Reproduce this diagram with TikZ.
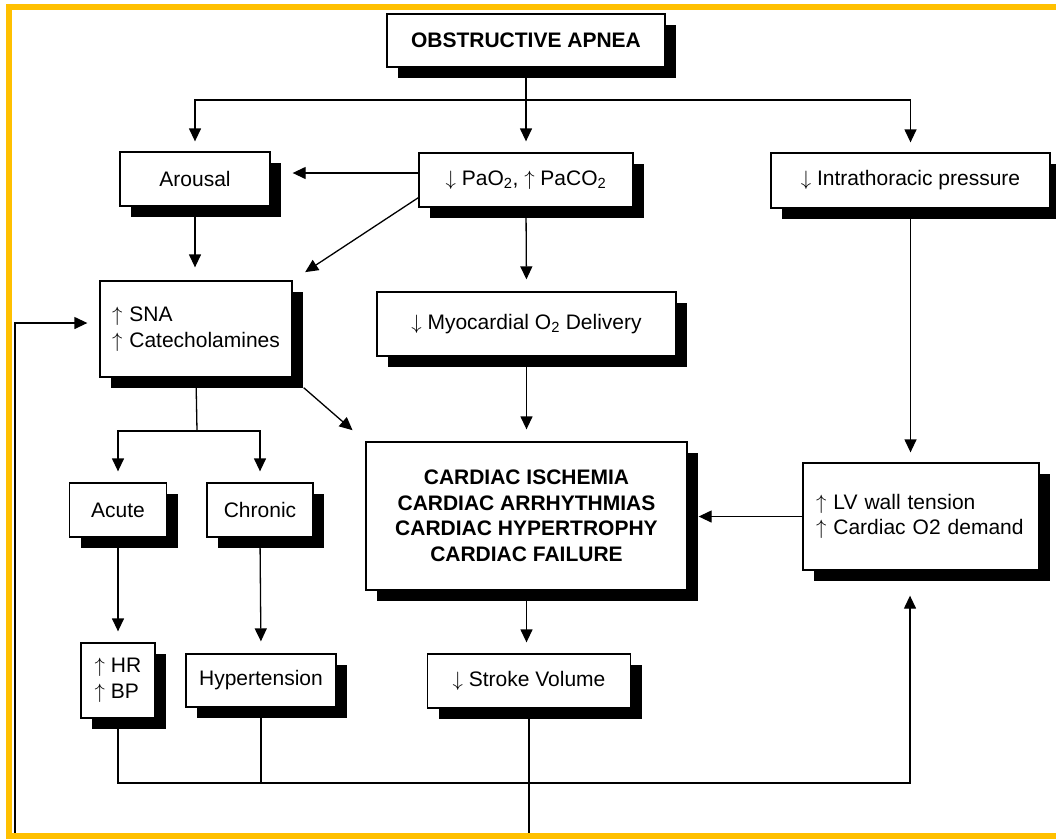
\documentclass[tikz,border=0pt]{standalone}
\usepackage{fontspec}
\setmainfont{Liberation Sans}
\usetikzlibrary{arrows.meta,shadows}
\definecolor{oaframe}{HTML}{FFC000}
\newcommand\oaup{$\uparrow$}
\newcommand\oadown{$\downarrow$}
\newcommand\oafont{\fontsize{21}{25.5}\selectfont\hyphenpenalty 10000\relax}
\tikzset{
 oa box/.style={draw=black,line width=1.3pt,fill=white,inner sep=0pt,align=center,
                font=\oafont,
                drop shadow={shadow xshift=11pt,shadow yshift=-11pt,fill=black,opacity=1}},
 oa bold box/.style={oa box,font=\oafont\bfseries},
 oa list box/.style={oa box,align=left},
 oa line/.style={line width=1.3pt},
 oa arrow/.style={oa line,-{Triangle[length=13pt,width=12pt]},shorten >=#1},
 oa arrow/.default=11pt
}

\begin{document}
\begin{tikzpicture}[x=1pt,y=-1pt]
 \useasboundingbox (0,0) rectangle (1056,839);
 % boxes
 \node[oa bold box,minimum width=278pt,minimum height=53pt] (apnea) at (526,40.5) {OBSTRUCTIVE APNEA};
 \node[oa box,minimum width=150pt,minimum height=54pt] (arousal) at (195,179) {Arousal};
 \node[oa box,minimum width=214pt,minimum height=54pt] (pao2) at (526,180)
   {\oadown{} PaO\textsubscript{2}, \oaup{} PaCO\textsubscript{2}};
 \node[oa box,minimum width=279pt,minimum height=55pt] (intra) at (910.5,180.5) {\oadown{} Intrathoracic pressure};
 \node[oa list box,text width=168pt,inner xsep=12pt,minimum height=96pt] (sna) at (196,329)
   {\oaup{} SNA\\\oaup{} Catecholamines};
 \node[oa box,minimum width=299pt,minimum height=64pt] (myo) at (526.5,324)
   {\oadown{} Myocardial O\textsubscript{2} Delivery};
 \node[oa bold box,minimum width=321pt,minimum height=148pt] (cardiac) at (526.5,516)
   {CARDIAC ISCHEMIA\\CARDIAC ARRHYTHMIAS\\CARDIAC HYPERTROPHY\\CARDIAC FAILURE};
 \node[oa list box,text width=210pt,inner xsep=13pt,minimum height=107pt] (lv) at (921,516.5)
   {\oaup{} LV wall tension\\\oaup{} Cardiac O2 demand};
 \node[oa box,minimum width=97pt,minimum height=54pt] (acute) at (118,510) {Acute};
 \node[oa box,minimum width=106pt,minimum height=54pt] (chronic) at (260,510) {Chronic};
 \node[oa list box,minimum width=74pt,minimum height=75pt] (hrbp) at (118,680.5) {\oaup{} HR\\\oaup{} BP};
 \node[oa box,minimum width=150pt,minimum height=53pt] (hyper) at (261,680.5) {Hypertension};
 \node[oa box,minimum width=203pt,minimum height=54pt] (stroke) at (529,681) {\oadown{} Stroke Volume};

 % connectors
 \coordinate (split) at (526,100);
 \draw[oa arrow] (apnea.south) -- (pao2.north);
 \draw[oa arrow=10pt] (split) -| (arousal.north);
 \draw[oa arrow=10pt] (split) -| (intra.north);
 \draw[oa arrow=22pt] ([yshift=7pt]pao2.west) -- ([yshift=7pt]pao2.west -| arousal.east);
 \draw[oa arrow=15pt] ([yshift=10pt]pao2.south west) -- (sna.north east);
 \draw[oa arrow=13pt] (arousal.south) -- (arousal.south |- sna.north);
 \draw[oa arrow=12pt] (pao2.south) -- (myo.north);
 \draw[oa arrow=12pt] (myo.south) -- (cardiac.north);
 \draw[oa arrow=17pt] ([shift={(11pt,-10pt)}]sna.south east) -- (cardiac.north west);
 \coordinate (snasplit) at (197,431);
 \draw[oa line] (sna.south) -- (snasplit);
 \draw[oa arrow] (snasplit) -| (acute.north);
 \draw[oa arrow] (snasplit) -| (chronic.north);
 \draw[oa arrow] (acute.south) -- (hrbp.north);
 \draw[oa arrow=12pt] (chronic.south) -- (hyper.north);
 \draw[oa arrow] (cardiac.south) -- (cardiac.south |- stroke.north);
 \draw[oa arrow=10pt] (intra.south) -- (intra.south |- lv.north);
 \draw[oa arrow] (lv.west) -- (cardiac.east |- lv.west);
 \coordinate (bus) at (910,783);
 \draw[oa arrow=25pt] (hrbp.south) |- (bus) -- (bus |- lv.south);
 \draw[oa line] (hyper.south) -- (hyper.south |- bus);
 \coordinate (loop) at (15,836);
 \coordinate (feed) at (15,323);
 \draw[oa arrow=12pt] (stroke.south) |- (loop) -- (feed) -- (feed -| sna.west);

 % frame
 \draw[line width=6pt,oaframe] (9,7) rectangle (1080,836);
\end{tikzpicture}
\end{document}
